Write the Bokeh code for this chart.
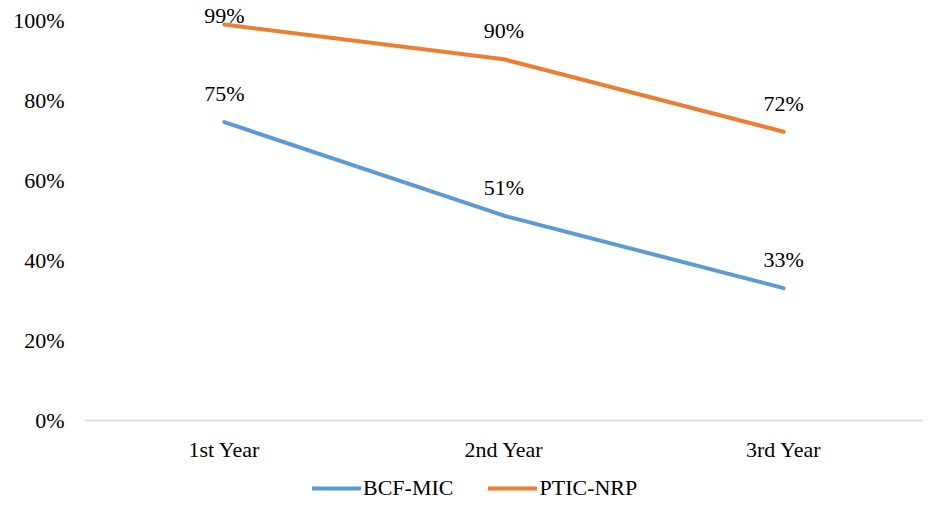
import numpy as np
from bokeh.plotting import figure
from bokeh.models import (ColumnDataSource, FactorRange, Range1d, FixedTicker,
                          NumeralTickFormatter, LabelSet, Legend, LegendItem, Span)
from bokeh.embed import file_html
from bokeh.resources import INLINE

categories = ["1st Year", "2nd Year", "3rd Year"]
bcf_mic = [0.746, 0.512, 0.331]
ptic_nrp = [0.990, 0.903, 0.722]
series_names = ["BCF-MIC", "PTIC-NRP"]
colors = ["#5B9BD5", "#ED7D31"]
y_ticks = [0, 0.2, 0.4, 0.6, 0.8, 1.0]

FONT = "Liberation Serif"
FS = "22px"

W, H = 923, 501
TOP, LEFT = 8, 84
PX_PER_UNIT = 400.0
y_top = 1.03
y_bottom = y_top - (H - TOP) / PX_PER_UNIT

p = figure(x_range=FactorRange(*categories, range_padding=0),
           y_range=Range1d(y_bottom, y_top),
           width=W, height=H, output_backend="svg", toolbar_location=None,
           min_border_left=LEFT, min_border_right=0, min_border_top=TOP,
           min_border_bottom=0)
p.outline_line_color = None
p.xgrid.visible = False
p.ygrid.visible = False
p.background_fill_color = "white"
p.border_fill_color = "white"
p.xaxis.visible = False

# y axis
p.yaxis.ticker = FixedTicker(ticks=y_ticks)
p.yaxis.formatter = NumeralTickFormatter(format="0%")
p.yaxis.axis_line_color = None
p.yaxis.major_tick_line_color = None
p.yaxis.minor_tick_line_color = None
p.yaxis.major_tick_out = 0
p.yaxis.major_tick_in = 0
p.yaxis.major_label_standoff = 20
p.yaxis.major_label_text_font = FONT
p.yaxis.major_label_text_font_size = FS
p.yaxis.major_label_text_color = "black"

# category axis line and labels
p.add_layout(Span(location=0, dimension="width", line_color="#D9D9D9",
                  line_width=1.5))
cat_src = ColumnDataSource(dict(x=categories, y=[0] * len(categories),
                                t=categories))
p.add_layout(LabelSet(x="x", y="y", text="t", source=cat_src,
                      text_align="center", text_baseline="alphabetic",
                      y_offset=-36, text_font=FONT, text_font_size=FS,
                      text_color="black"))

items = []
for name, vals, col in zip(series_names, [bcf_mic, ptic_nrp], colors):
    v = np.array(vals)
    label_y = np.minimum(v + 21 / PX_PER_UNIT, 0.995)
    src = ColumnDataSource(dict(x=categories, y=v, ly=label_y,
                                t=[f"{round(a * 100):d}%" for a in v]))
    r = p.line("x", "y", source=src, line_color=col, line_width=4,
               line_cap="round", line_join="round")
    items.append(LegendItem(label=name, renderers=[r]))
    lbl = LabelSet(x="x", y="ly", text="t", source=src, text_align="center",
                   text_baseline="alphabetic", text_font=FONT,
                   text_font_size=FS, text_color="black")
    p.add_layout(lbl)

legend = Legend(items=items, orientation="horizontal", location=(228, 0),
                padding=0, margin=0, spacing=35, glyph_width=49,
                glyph_height=20, label_standoff=2, border_line_color=None,
                background_fill_alpha=0, label_text_font=FONT,
                label_text_font_size=FS, label_text_color="black")
p.add_layout(legend, "center")

open("out.html", "w").write(file_html(p, INLINE))
